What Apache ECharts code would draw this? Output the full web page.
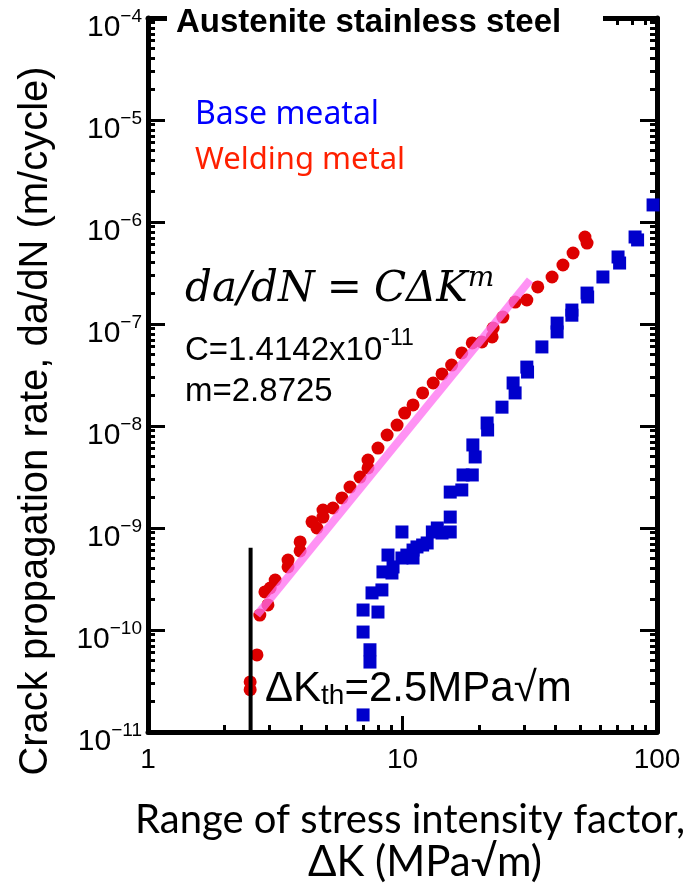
<!DOCTYPE html>
<html>
<head>
<meta charset="utf-8">
<script src="https://cdn.jsdelivr.net/npm/echarts@6/dist/echarts.min.js"></script>
<style>
html,body{margin:0;padding:0;background:#fff;}
#chart{width:692px;height:893px;}
</style>
</head>
<body>
<div id="chart"></div>
<script>
// welding metal [dK, da/dN]
var weldData = [
  [2.52, 2.6e-11], [2.52, 3.1e-11], [2.68, 5.7e-11], [2.75, 1.40e-10], [2.96, 1.76e-10],
  [2.88, 2.36e-10], [3.02, 2.58e-10], [3.16, 3.09e-10], [3.55, 4.85e-10], [3.55, 4.15e-10],
  [3.96, 7.3e-10], [3.96, 5.96e-10], [4.41, 1.15e-9], [4.61, 1.0e-9], [4.87, 1.50e-9],
  [4.87, 1.28e-9], [5.33, 1.57e-9], [5.78, 1.97e-9], [6.22, 2.52e-9], [6.81, 3.16e-9],
  [7.32, 3.88e-9], [7.32, 4.64e-9], [8.01, 6.08e-9], [8.70, 8.16e-9], [9.52, 1.02e-8],
  [10.2, 1.34e-8], [11.0, 1.61e-8], [12.0, 2.11e-8], [13.2, 2.64e-8], [14.3, 3.24e-8],
  [15.6, 3.96e-8], [17.1, 5.20e-8], [18.8, 6.52e-8], [20.5, 6.67e-8], [22.5, 7.47e-8],
  [22.7, 9.14e-8], [24.8, 1.17e-7], [27.7, 1.64e-7], [30.8, 1.72e-7], [34.0, 2.31e-7],
  [38.7, 2.89e-7], [42.7, 3.79e-7], [46.8, 4.97e-7], [52.1, 7.13e-7], [53.1, 6.22e-7]
];
// base metal [dK, da/dN]
var baseData = [
  [7.0, 1.47e-11], [7.0, 9.55e-11], [7.0, 1.57e-10], [7.45, 6.4e-11], [7.45, 4.85e-11],
  [7.59, 2.31e-10], [8.01, 1.50e-10], [8.30, 2.47e-10], [8.38, 3.71e-10], [9.09, 3.62e-10],
  [8.77, 5.43e-10], [9.18, 4.15e-10], [9.95, 9.14e-10], [9.95, 5.08e-10], [10.4, 5.43e-10],
  [11.0, 6.08e-10], [11.0, 5.08e-10], [11.4, 6.52e-10], [12.0, 6.81e-10], [12.5, 7.13e-10],
  [13.1, 9.14e-10], [13.7, 1.0e-9], [14.3, 8.93e-10], [15.4, 9.14e-10], [15.4, 1.28e-9],
  [15.4, 2.25e-9], [17.1, 2.36e-9], [17.3, 3.31e-9], [18.8, 3.31e-9], [19.3, 4.97e-9],
  [18.9, 6.52e-9], [21.5, 1.07e-8], [21.6, 9.14e-9], [24.6, 1.53e-8], [27.2, 2.64e-8],
  [27.7, 2.11e-8], [30.8, 3.78e-8], [31.0, 3.38e-8], [35.3, 5.96e-8], [40.5, 1.02e-7],
  [40.5, 8.36e-8], [46.3, 1.37e-7], [46.3, 1.22e-7], [53.1, 2.01e-7], [53.4, 1.84e-7],
  [61.3, 2.89e-7], [70.3, 4.54e-7], [71.3, 3.96e-7], [82.0, 7.13e-7], [83.9, 6.67e-7],
  [96.5, 1.47e-6]
];
var openData = [[69.0, 6.1e-5]];
// fitted line ends and threshold line
var fitLine = [[2.68, 1.40e-10], [31.7, 2.7e-7]];
var thLine = [[2.53, 6.4e-10], [2.53, 1e-11]];

var xMajor = [1, 10, 100];
var yMajor = [1e-11, 1e-10, 1e-9, 1e-8, 1e-7, 1e-6, 1e-5, 1e-4];
var mantissa = [2, 3, 4, 5, 6, 7, 8, 9];
var xDecades = [0, 1];
var yDecades = [-11, -10, -9, -8, -7, -6, -5];

var xMinor = [], yMinor = [];
xDecades.forEach(function (d) { mantissa.forEach(function (m) { xMinor.push(Number(m + 'e' + d)); }); });
yDecades.forEach(function (d) { mantissa.forEach(function (m) { yMinor.push(Number(m + 'e' + d)); }); });

var FONT = '"Liberation Sans", Arial, sans-serif';

function xAx(pos, ticks, len, showLine, showLabel) {
  return {
    type: 'log', logBase: 10, min: 1, max: 100, position: pos,
    axisLine: { show: showLine, onZero: false, lineStyle: { color: '#000', width: 5 } },
    axisTick: { show: true, inside: true, length: len, customValues: ticks, lineStyle: { color: '#000', width: 3 } },
    axisLabel: { show: showLabel, customValues: ticks, margin: 14, fontSize: 28, color: '#000', fontFamily: FONT,
      formatter: function (v) { return String(Math.round(v)); } },
    splitLine: { show: false }, minorTick: { show: false }
  };
}
function yAx(pos, ticks, len, showLine, showLabel) {
  return {
    type: 'log', logBase: 10, min: 1e-11, max: 1e-4, position: pos,
    axisLine: { show: showLine, onZero: false, lineStyle: { color: '#000', width: 5 } },
    axisTick: { show: true, inside: true, length: len, customValues: ticks, lineStyle: { color: '#000', width: 3 } },
    axisLabel: { show: showLabel, customValues: ticks, margin: 6, color: '#000', fontFamily: FONT,
      padding: [14, 0, 0, 0],
      formatter: function (v) { return '{b|10}{s|\u2212' + Math.abs(Math.round(Math.log10(v))) + '}'; },
      rich: {
        b: { fontSize: 30, lineHeight: 36, verticalAlign: 'bottom', fontFamily: FONT, color: '#000' },
        s: { fontSize: 19, lineHeight: 19, verticalAlign: 'top', fontFamily: FONT, color: '#000' }
      } },
    splitLine: { show: false }, minorTick: { show: false }
  };
}

var chart = echarts.init(document.getElementById('chart'));
chart.setOption({
  animation: false,
  backgroundColor: '#fff',
  grid: { left: 148, right: 35, top: 18, bottom: 161 },
  xAxis: [
    xAx('bottom', xMajor, 16, true, true),
    xAx('bottom', xMinor, 7, false, false),
    xAx('top', xMajor, 16, true, false),
    xAx('top', xMinor, 7, false, false)
  ],
  yAxis: [
    yAx('left', yMajor, 17, true, true),
    yAx('left', yMinor, 7, false, false),
    yAx('right', yMajor, 17, true, false),
    yAx('right', yMinor, 7, false, false)
  ],
  series: [
    { type: 'scatter', name: 'Base meatal', data: baseData, symbol: 'rect', symbolSize: 13,
      itemStyle: { color: '#0000cc', opacity: 1 } },
    { type: 'scatter', name: 'Welding metal', data: weldData, symbol: 'circle', symbolSize: 13,
      itemStyle: { color: '#dd0000', opacity: 1 } },
    { type: 'scatter', data: openData, symbol: 'emptyCircle', symbolSize: 11,
      itemStyle: { color: '#fff', borderColor: '#3333ee', borderWidth: 1.5, opacity: 1 } },
    { type: 'line', data: fitLine, symbol: 'none', silent: true,
      lineStyle: { color: 'rgba(255,110,240,0.75)', width: 8 } },
    { type: 'line', data: thLine, symbol: 'none', silent: true,
      lineStyle: { color: '#000', width: 4 } }
  ],
  graphic: [
    { type: 'rect', z: 100, shape: { x: 167, y: 0, width: 436, height: 36 }, style: { fill: '#fff' } },
    { type: 'text', z: 101, style: { text: 'Austenite stainless steel', x: 176, y: 23, align: 'left', verticalAlign: 'middle',
      font: 'bold 33px ' + FONT, fill: '#000' } },
    { type: 'text', z: 101, style: { text: 'Base meatal', x: 195, y: 115, align: 'left', verticalAlign: 'middle',
      font: '32px "Noto Sans", sans-serif', fill: '#0000ff' } },
    { type: 'text', z: 101, style: { text: 'Welding metal', x: 195, y: 160, align: 'left', verticalAlign: 'middle',
      font: '31px "Noto Sans", sans-serif', fill: '#ff2000' } },
    { type: 'text', z: 101, style: { text: '{i|da/dN}{n|=}{i|C\u0394K}{s|m}', x: 185, y: 288, align: 'left', verticalAlign: 'middle',
      rich: {
        i: { fontFamily: '"DejaVu Serif", serif', fontStyle: 'italic', fontSize: 42, lineHeight: 46, verticalAlign: 'bottom', color: '#000' },
        n: { fontFamily: '"DejaVu Serif", serif', fontSize: 42, lineHeight: 46, verticalAlign: 'bottom', color: '#000', padding: [0, 12, 0, 12] },
        s: { fontFamily: '"DejaVu Serif", serif', fontStyle: 'italic', fontSize: 28, lineHeight: 28, verticalAlign: 'top', color: '#000' }
      } } },
    { type: 'text', z: 101, style: { text: '{b|C=1.4142x10}{s|-11}', x: 185, y: 347, align: 'left', verticalAlign: 'middle',
      rich: {
        b: { fontFamily: FONT, fontSize: 33, lineHeight: 40, verticalAlign: 'bottom', color: '#000' },
        s: { fontFamily: FONT, fontSize: 23, lineHeight: 23, verticalAlign: 'top', color: '#000' }
      } } },
    { type: 'text', z: 101, style: { text: 'm=2.8725', x: 185, y: 392, align: 'left', verticalAlign: 'middle',
      font: '33px ' + FONT, fill: '#000' } },
    { type: 'text', z: 101, style: { text: '{b|\u0394K}{t|th}{b|=2.5MPa\u221am}', x: 265, y: 688, align: 'left', verticalAlign: 'middle',
      rich: {
        b: { fontFamily: FONT, fontSize: 42, lineHeight: 44, verticalAlign: 'bottom', color: '#000' },
        t: { fontFamily: FONT, fontSize: 28, lineHeight: 31, verticalAlign: 'bottom', color: '#000' }
      } } },
    { type: 'text', z: 101, x: 36, y: 421, rotation: Math.PI / 2,
      style: { text: 'Crack propagation rate, da/dN (m/cycle)', x: 0, y: 0, align: 'center', verticalAlign: 'middle',
        font: '40px ' + FONT, fill: '#000' } },
    { type: 'text', z: 101, style: { text: 'Range of stress intensity factor,', x: 410, y: 820, align: 'center', verticalAlign: 'middle',
      font: '40px Lato, ' + FONT, fill: '#000' } },
    { type: 'text', z: 101, style: { text: '\u0394K (MPa\u221am)', x: 425, y: 862, align: 'center', verticalAlign: 'middle',
      font: '42px Lato, ' + FONT, fill: '#000' } }
  ]
});
</script>
</body>
</html>
